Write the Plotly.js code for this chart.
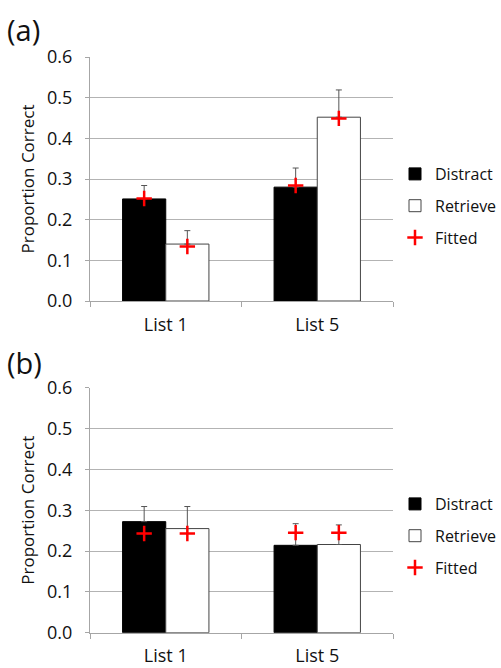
<!DOCTYPE html>
<html><head><meta charset="utf-8">
<script src="https://cdn.plot.ly/plotly-3.0.1.min.js"></script>
<style>html,body{margin:0;padding:0;background:#fff;}#chart{width:501px;height:668px;}</style>
</head><body><div id="chart"></div>
<script>
const categories = ["List 1", "List 5"];
// Panel (a)
const aDistract = [0.251, 0.280];
const aDistractErr = [0.033, 0.047];
const aRetrieve = [0.140, 0.452];
const aRetrieveErr = [0.033, 0.067];
const aFittedDistract = [0.252, 0.284];
const aFittedRetrieve = [0.134, 0.449];
// Panel (b)
const bDistract = [0.272, 0.214];
const bDistractErr = [0.037, 0.053];
const bRetrieve = [0.255, 0.216];
const bRetrieveErr = [0.054, 0.048];
const bFittedDistract = [0.243, 0.245];
const bFittedRetrieve = [0.243, 0.245];
const yTicks = [0, 0.1, 0.2, 0.3, 0.4, 0.5, 0.6];

const FONT = "Open Sans, Noto Sans, sans-serif";
const zeros = [0, 0];

function panel(xa, ya, leg, D, De, R, Re, FD, FR) {
  const err = (arr) => ({type: "data", array: arr, arrayminus: zeros, symmetric: false,
    color: "#555", thickness: 1, width: 3});
  const fit = {symbol: "cross-thin-open", size: 11, color: "#f00", line: {color: "#f00", width: 2.5}};
  return [
    {type: "bar", name: "Distract", x: categories, y: D, xaxis: xa, yaxis: ya, legend: leg,
     legendgroup: leg + "d", offsetgroup: "d",
     marker: {color: "#000", line: {color: "#000", width: 1}}, error_y: err(De)},
    {type: "bar", name: "Retrieve", x: categories, y: R, xaxis: xa, yaxis: ya, legend: leg,
     legendgroup: leg + "r", offsetgroup: "r",
     marker: {color: "#fff", line: {color: "#444", width: 1}}, error_y: err(Re)},
    {type: "scatter", mode: "markers", name: "Fitted", x: categories, y: FD, xaxis: xa, yaxis: ya,
     legend: leg, legendgroup: leg + "f", offsetgroup: "d", marker: fit},
    {type: "scatter", mode: "markers", name: "Fitted", x: categories, y: FR, xaxis: xa, yaxis: ya,
     legend: leg, legendgroup: leg + "f", offsetgroup: "r", showlegend: false, marker: fit}
  ];
}

const data = [].concat(
  panel("x", "y", "legend", aDistract, aDistractErr, aRetrieve, aRetrieveErr, aFittedDistract, aFittedRetrieve),
  panel("x2", "y2", "legend2", bDistract, bDistractErr, bRetrieve, bRetrieveErr, bFittedDistract, bFittedRetrieve)
);

const xCommon = {type: "category", showgrid: false, showline: true, linecolor: "#a6a6a6", linewidth: 1,
  ticks: "outside", tickson: "boundaries", ticklen: 5, tickcolor: "#a6a6a6",
  tickfont: {family: FONT, size: 18, color: "#111"}, ticklabelstandoff: 7, fixedrange: true,
  automargin: false, domain: [90/501, 393/501]};
const yCommon = {range: [0, 0.6], tickvals: yTicks, tickformat: ".1f", showgrid: true, gridcolor: "#b3b3b3",
  showline: true, linecolor: "#a6a6a6", ticks: "outside", ticklen: 4, tickcolor: "#a6a6a6",
  tickfont: {family: FONT, size: 18, color: "#111"}, ticklabelstandoff: 9, zeroline: false, automargin: false,
  title: {text: "Proportion Correct", font: {family: FONT, size: 17, color: "#111"}, standoff: 8}};

const legCommon = {font: {family: FONT, size: 16, color: "#111"}, bgcolor: "rgba(0,0,0,0)",
  traceorder: "grouped", tracegroupgap: 8, xanchor: "left", yanchor: "middle", itemwidth: 30};

const layout = {
  width: 501, height: 668,
  margin: {l: 0, r: 0, t: 0, b: 0, autoexpand: false},
  paper_bgcolor: "#fff", plot_bgcolor: "#fff",
  barmode: "group", bargap: 0.43, bargroupgap: 0,
  scattermode: "group", scattergap: 0.43,
  xaxis: Object.assign({}, xCommon, {anchor: "y"}),
  yaxis: Object.assign({}, yCommon, {domain: [(668-301)/668, (668-57)/668], anchor: "x"}),
  xaxis2: Object.assign({}, xCommon, {anchor: "y2"}),
  yaxis2: Object.assign({}, yCommon, {domain: [(668-632.7)/668, (668-387.7)/668], anchor: "x2"}),
  legend: Object.assign({}, legCommon, {x: 395/501, y: 1 - 206/668}),
  legend2: Object.assign({}, legCommon, {x: 395/501, y: 1 - 536/668}),
  annotations: [
    {text: "(a)", xref: "paper", yref: "paper", x: 5/501, y: 1 - 30/668, xanchor: "left", yanchor: "middle",
     showarrow: false, font: {family: FONT, size: 29, color: "#111"}},
    {text: "(b)", xref: "paper", yref: "paper", x: 5/501, y: 1 - 362/668, xanchor: "left", yanchor: "middle",
     showarrow: false, font: {family: FONT, size: 29, color: "#111"}}
  ],
  showlegend: true
};

Plotly.newPlot("chart", data, layout, {displayModeBar: false, staticPlot: true});
</script>
</body></html>
